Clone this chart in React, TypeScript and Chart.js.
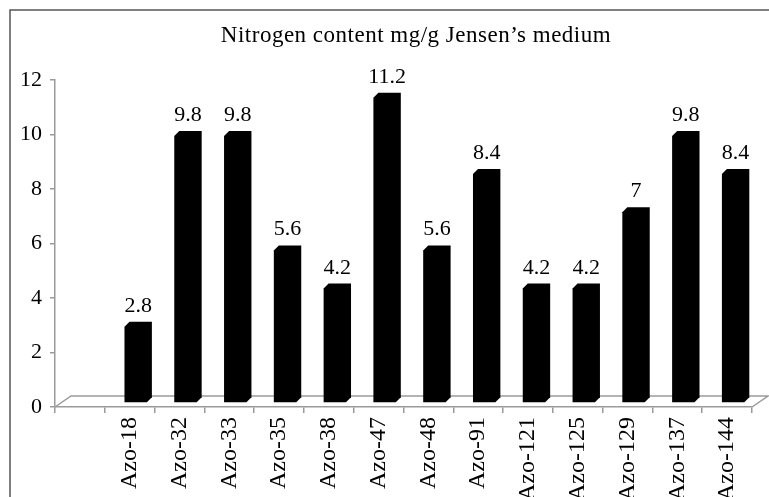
import React, { useEffect, useRef } from "react";
import { Chart, registerables } from "chart.js";

Chart.register(...registerables);

const categories: string[] = ["", "Azo-18", "Azo-32", "Azo-33", "Azo-35", "Azo-38", "Azo-47", "Azo-48", "Azo-91", "Azo-121", "Azo-125", "Azo-129", "Azo-137", "Azo-144"];
const nitrogenValues: (number | null)[] = [null, 2.8, 9.8, 9.8, 5.6, 4.2, 11.2, 5.6, 8.4, 4.2, 4.2, 7, 9.8, 8.4];
const valueLabels: string[] = ["", "2.8", "9.8", "9.8", "5.6", "4.2", "11.2", "5.6", "8.4", "4.2", "4.2", "7", "9.8", "8.4"];
const titleText = "Nitrogen content mg/g Jensen\u2019s medium";

const SERIF = "'Liberation Serif', 'Times New Roman', serif";
const AXIS_GRAY = "#9a9a9a";
const FRONT_DX = 6;
const FRONT_DY = -4;
const DEPTH = 5;
const FLOOR_DX = 16;
const FLOOR_DY = 11;

const decorPlugin = {
  id: "decor3d",
  beforeDraw(chart: any) {
    const ctx = chart.ctx;
    ctx.save();
    ctx.strokeStyle = "#555";
    ctx.lineWidth = 1.5;
    ctx.beginPath();
    ctx.moveTo(10, 600);
    ctx.lineTo(10, 10);
    ctx.lineTo(900, 10);
    ctx.stroke();
    ctx.fillStyle = "#000";
    ctx.font = `23px ${SERIF}`;
    ctx.letterSpacing = "0.5px";
    ctx.textAlign = "center";
    ctx.textBaseline = "alphabetic";
    ctx.fillText(titleText, 416, 42);
    ctx.restore();
  },
  beforeDatasetsDraw(chart: any) {
    const ctx = chart.ctx;
    const { left, right, bottom } = chart.chartArea;
    ctx.save();
    ctx.strokeStyle = AXIS_GRAY;
    ctx.lineWidth = 1.5;
    ctx.beginPath();
    ctx.moveTo(left, bottom);
    ctx.lineTo(left + FLOOR_DX, bottom - FLOOR_DY);
    ctx.lineTo(right + FLOOR_DX, bottom - FLOOR_DY);
    ctx.lineTo(right, bottom);
    ctx.stroke();
    ctx.restore();
  },
  afterDatasetsDraw(chart: any) {
    const ctx = chart.ctx;
    const meta = chart.getDatasetMeta(0);
    ctx.save();
    meta.data.forEach((el: any, i: number) => {
      const v = nitrogenValues[i];
      if (v === null || v === undefined) return;
      const { x, y, base, width } = el.getProps(["x", "y", "base", "width"], true);
      const L = x - width / 2 + FRONT_DX;
      const R = x + width / 2 + FRONT_DX;
      const T = y + FRONT_DY;
      const B = base + FRONT_DY;
      ctx.fillStyle = "#000";
      ctx.beginPath();
      ctx.moveTo(L, T);
      ctx.lineTo(L + DEPTH, T - DEPTH);
      ctx.lineTo(R + DEPTH, T - DEPTH);
      ctx.lineTo(R + DEPTH, B - DEPTH);
      ctx.lineTo(R, B);
      ctx.lineTo(L, B);
      ctx.closePath();
      ctx.fill();
      ctx.font = `22px ${SERIF}`;
      ctx.textAlign = "center";
      ctx.textBaseline = "alphabetic";
      ctx.fillText(valueLabels[i], x + FRONT_DX + DEPTH / 2, T - DEPTH - 10);
    });
    ctx.restore();
  },
};

export default function App() {
  const canvasRef = useRef<HTMLCanvasElement | null>(null);

  useEffect(() => {
    if (!canvasRef.current) return;
    const chart = new Chart(canvasRef.current, {
      type: "bar",
      data: {
        labels: categories,
        datasets: [
          {
            label: "Nitrogen content",
            data: nitrogenValues,
            backgroundColor: "rgba(0,0,0,0)",
            borderWidth: 0,
            categoryPercentage: 1,
            barPercentage: 0.45,
          },
        ],
      },
      options: {
        responsive: false,
        animation: false,
        layout: { padding: { left: 0, top: 80, right: 17, bottom: 0 } },
        plugins: {
          legend: { display: false },
          title: { display: false },
          tooltip: { enabled: false },
        },
        scales: {
          x: {
            afterFit: (scale: any) => {
              scale.height = 90;
            },
            grid: {
              offset: true,
              drawOnChartArea: false,
              drawTicks: true,
              tickLength: 6,
              color: AXIS_GRAY,
              lineWidth: 1.5,
            },
            border: { display: true, color: AXIS_GRAY, width: 1.5 },
            ticks: {
              autoSkip: false,
              minRotation: 90,
              maxRotation: 90,
              padding: 4,
              color: "#000",
              font: { family: SERIF, size: 24 },
            },
          },
          y: {
            min: 0,
            max: 12,
            afterFit: (scale: any) => {
              scale.width = 55;
            },
            grid: {
              drawOnChartArea: false,
              drawTicks: true,
              tickLength: 5,
              color: AXIS_GRAY,
              lineWidth: 1.5,
            },
            border: { display: true, color: AXIS_GRAY, width: 1.5 },
            ticks: {
              stepSize: 2,
              padding: 8,
              color: "#000",
              font: { family: SERIF, size: 22 },
            },
          },
        },
      },
      plugins: [decorPlugin],
    });
    return () => chart.destroy();
  }, []);

  return (
    <div style={{ position: "absolute", left: 0, top: 0, width: 769, height: 497, background: "#fff" }}>
      <canvas ref={canvasRef} width={769} height={497} style={{ display: "block" }} />
    </div>
  );
}
